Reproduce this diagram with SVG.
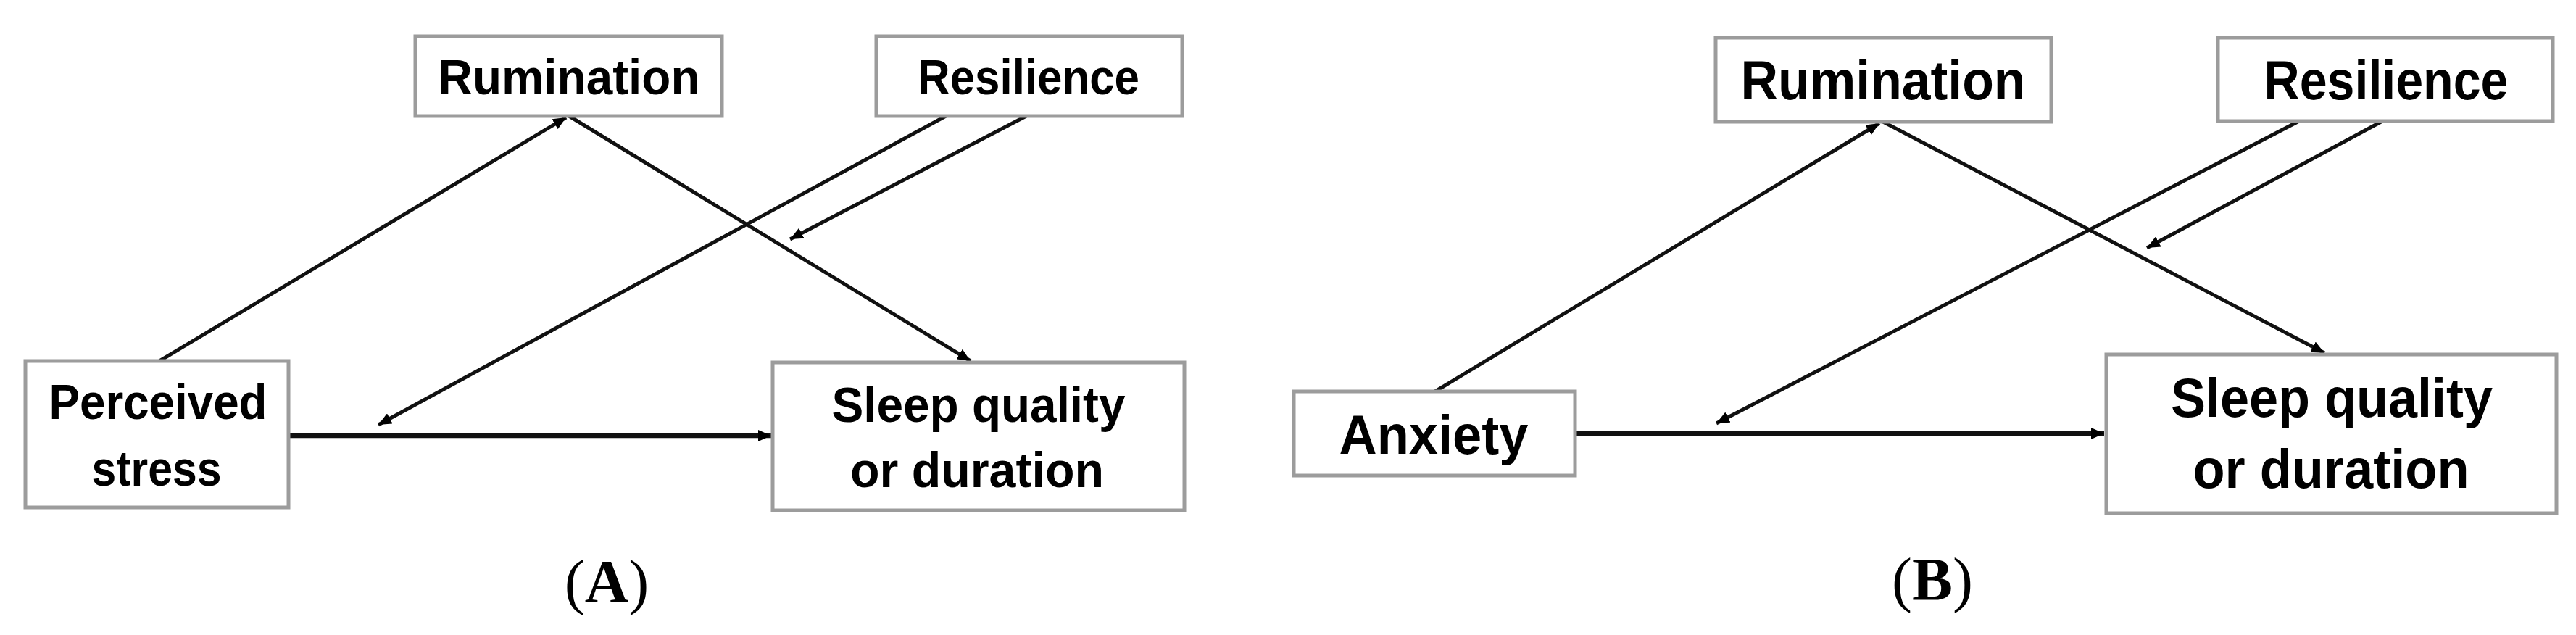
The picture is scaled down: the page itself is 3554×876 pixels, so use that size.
<svg xmlns="http://www.w3.org/2000/svg" width="3554" height="876" viewBox="0 0 3554 876">
<style>
.box{fill:#ffffff;stroke:#9c9c9c;stroke-width:5}
.lbl{font-family:"Liberation Sans",Arial,sans-serif;font-weight:bold;fill:#000;text-anchor:middle}
.a{font-size:68px}
.b{font-size:76px}
.cap{font-family:"Liberation Serif","Times New Roman",serif;font-size:84px;fill:#000;text-anchor:middle}
.ln{stroke:#111;stroke-width:5;fill:none;marker-end:url(#ah)}
.hz{stroke:#111;stroke-width:6.5;fill:none;marker-end:url(#ah)}
</style>
<defs>
<marker id="ah" markerUnits="userSpaceOnUse" markerWidth="20" markerHeight="16" refX="18" refY="8" orient="auto">
<path d="M0,0 L18,8 L0,16 Z" fill="#000"/>
</marker>
</defs>
<rect width="3554" height="876" fill="#ffffff"/>
<g id="connectors">
<line class="ln" x1="220" y1="498" x2="781" y2="162"/>
<line class="ln" x1="785" y1="160" x2="1339" y2="498"/>
<line class="ln" x1="1305" y1="160" x2="522" y2="586"/>
<line class="ln" x1="1416" y1="160" x2="1090" y2="330"/>
<line class="hz" x1="398" y1="601" x2="1064" y2="601"/>
<line class="ln" x1="1980" y1="540" x2="2593" y2="170"/>
<line class="ln" x1="2598" y1="168" x2="3207" y2="487"/>
<line class="ln" x1="3172" y1="167" x2="2368" y2="584"/>
<line class="ln" x1="3287" y1="167" x2="2962" y2="342"/>
<line class="hz" x1="2173" y1="598" x2="2903" y2="598"/>
</g>
<g id="a-rumination">
<rect class="box" x="573" y="50" width="423" height="110"/>
<text class="lbl a" x="785" y="130" textLength="361" lengthAdjust="spacingAndGlyphs">Rumination</text>
</g>
<g id="a-resilience">
<rect class="box" x="1209" y="50" width="422" height="110"/>
<text class="lbl a" x="1419" y="130" textLength="306" lengthAdjust="spacingAndGlyphs">Resilience</text>
</g>
<g id="a-perceived-stress">
<rect class="box" x="35" y="498" width="363" height="202"/>
<text class="lbl a" x="218" y="578" textLength="301" lengthAdjust="spacingAndGlyphs">Perceived</text>
<text class="lbl a" x="216" y="670" textLength="179" lengthAdjust="spacingAndGlyphs">stress</text>
</g>
<g id="a-sleep">
<rect class="box" x="1066" y="500" width="568" height="204"/>
<text class="lbl a" x="1350" y="582" textLength="405" lengthAdjust="spacingAndGlyphs">Sleep quality</text>
<text class="lbl a" x="1348" y="672" textLength="350" lengthAdjust="spacingAndGlyphs">or duration</text>
</g>
<g id="b-rumination">
<rect class="box" x="2367" y="52" width="463" height="116"/>
<text class="lbl b" x="2598" y="137" textLength="393" lengthAdjust="spacingAndGlyphs">Rumination</text>
</g>
<g id="b-resilience">
<rect class="box" x="3060" y="52" width="462" height="115"/>
<text class="lbl b" x="3292" y="137" textLength="337" lengthAdjust="spacingAndGlyphs">Resilience</text>
</g>
<g id="b-anxiety">
<rect class="box" x="1785" y="540" width="388" height="116"/>
<text class="lbl b" x="1978" y="626" textLength="261" lengthAdjust="spacingAndGlyphs">Anxiety</text>
</g>
<g id="b-sleep">
<rect class="box" x="2906" y="489" width="621" height="219"/>
<text class="lbl b" x="3217" y="575" textLength="444" lengthAdjust="spacingAndGlyphs">Sleep quality</text>
<text class="lbl b" x="3216" y="673" textLength="381" lengthAdjust="spacingAndGlyphs">or duration</text>
</g>
<g id="captions">
<text class="cap" x="837" y="831">(<tspan font-weight="bold">A</tspan>)</text>
<text class="cap" x="2666" y="828">(<tspan font-weight="bold">B</tspan>)</text>
</g>
</svg>
